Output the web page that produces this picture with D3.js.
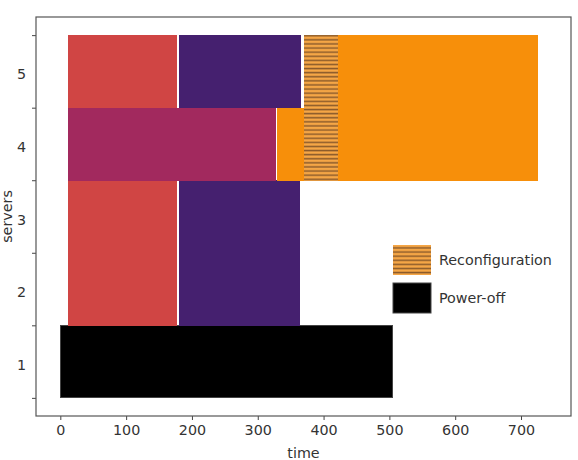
<!DOCTYPE html>
<html>
<head>
<meta charset="utf-8">
<script src="https://cdn.jsdelivr.net/npm/d3@7"></script>
<style>
  body { margin: 0; background: #fff; }
  svg { display: block; }
</style>
</head>
<body>
<div id="chart"></div>
<script>
// servers shown on the y axis
const servers = [1, 2, 3, 4, 5];
const xTicks = [0, 100, 200, 300, 400, 500, 600, 700];

// one entry per bar
const barServer = [1, 2, 2, 3, 3, 4, 4, 4, 4, 5, 5, 5, 5];
const barStart  = [0, 11, 181, 11, 181, 11, 329, 370, 422, 11, 181, 370, 422];
const barEnd    = [504, 177, 364, 177, 364, 327, 370, 422, 726, 177, 365, 422, 726];
const barKind   = ['off', 'a', 'b', 'a', 'b', 'c', 'd', 'reconf', 'd', 'a', 'b', 'reconf', 'd'];

const legendLabels = ['Reconfiguration', 'Power-off'];
const legendKinds = ['reconf', 'off'];

const W = 578, H = 460;
const margin = {left: 36, right: 7, top: 17, bottom: 44};
const FS = 14.3;

const kindColor = {
  off: '#000000',
  a: '#d04544',
  b: '#45206f',
  c: '#a2295e',
  d: '#f78f0a',
  reconf: 'url(#hatch)'
};

const svg = d3.select('#chart')
  .append('svg')
  .attr('width', W)
  .attr('height', H)
  .attr('font-family', 'DejaVu Sans, sans-serif');

const defs = svg.append('defs');
const pat = defs.append('pattern')
  .attr('id', 'hatch')
  .attr('patternUnits', 'userSpaceOnUse')
  .attr('width', 8)
  .attr('height', 4.1);
pat.append('rect')
  .attr('width', 8).attr('height', 4.1)
  .attr('fill', '#f5a646');
pat.append('rect')
  .attr('y', 2.2).attr('width', 8).attr('height', 1.5)
  .attr('fill', '#8a5a2a');

const x = d3.scaleLinear()
  .domain([-36.95, 775.95])
  .range([margin.left, W - margin.right]);

const y = d3.scaleLinear()
  .domain([0.25, 5.75])
  .range([H - margin.bottom, margin.top]);

const bars = d3.range(barServer.length).map(i => ({
  server: barServer[i], start: barStart[i], end: barEnd[i], kind: barKind[i]
}));

svg.append('g')
  .attr('shape-rendering', 'crispEdges')
  .selectAll('rect')
  .data(bars)
  .join('rect')
  .attr('x', d => x(d.start))
  .attr('width', d => x(d.end) - x(d.start))
  .attr('y', d => y(d.server + 0.5))
  .attr('height', d => y(d.server - 0.5) - y(d.server + 0.5) + (d.kind == 'off' ? 0 : 0.6))
  .attr('fill', d => kindColor[d.kind])
  .attr('stroke', d => d.kind == 'off' ? '#444' : 'none')
  .attr('stroke-width', 1);

// x axis
const xAxis = svg.append('g')
  .attr('transform', `translate(0,${H - margin.bottom})`)
  .call(d3.axisBottom(x).tickValues(xTicks).tickSize(4).tickPadding(5));
xAxis.select('.domain').remove();
xAxis.selectAll('line').attr('stroke', '#444');
xAxis.selectAll('text').attr('font-size', FS).attr('fill', '#333')
  .attr('font-family', 'DejaVu Sans, sans-serif');

// y axis: ticks at boundaries, labels at centers
const yAxis = svg.append('g')
  .attr('transform', `translate(${margin.left},0)`)
  .call(d3.axisLeft(y).tickValues(servers.map(s => s - 0.5).concat([5.5])).tickSize(4).tickFormat(''));
yAxis.select('.domain').remove();
yAxis.selectAll('line').attr('stroke', '#444');

svg.append('g')
  .selectAll('text')
  .data(servers)
  .join('text')
  .attr('x', margin.left - 10)
  .attr('y', d => y(d) + 3)
  .attr('dy', '0.35em')
  .attr('text-anchor', 'end')
  .attr('font-size', FS)
  .attr('fill', '#333')
  .text(d => d);

// frame
svg.append('rect')
  .attr('x', margin.left)
  .attr('y', margin.top)
  .attr('width', W - margin.left - margin.right)
  .attr('height', H - margin.top - margin.bottom)
  .attr('fill', 'none')
  .attr('stroke', '#555')
  .attr('stroke-width', 1.2);

// axis labels
svg.append('text')
  .attr('x', (margin.left + W - margin.right) / 2)
  .attr('y', H - 2)
  .attr('text-anchor', 'middle')
  .attr('font-size', FS)
  .attr('fill', '#333')
  .text('time');

svg.append('text')
  .attr('transform', `translate(12,${(margin.top + H - margin.bottom) / 2}) rotate(-90)`)
  .attr('text-anchor', 'middle')
  .attr('font-size', FS)
  .attr('fill', '#333')
  .text('servers');

// legend
const legend = svg.append('g')
  .attr('transform', 'translate(393,245)');
const item = legend.selectAll('g')
  .data(legendLabels)
  .join('g')
  .attr('transform', (d, i) => `translate(0,${i * 38})`);
item.append('rect')
  .attr('width', 38)
  .attr('height', 30)
  .attr('fill', (d, i) => kindColor[legendKinds[i]])
  .attr('stroke', (d, i) => legendKinds[i] == 'off' ? '#444' : 'none');
item.append('text')
  .attr('x', 46)
  .attr('y', 15)
  .attr('dy', '0.35em')
  .attr('font-size', FS)
  .attr('fill', '#333')
  .text(d => d);
</script>
</body>
</html>
